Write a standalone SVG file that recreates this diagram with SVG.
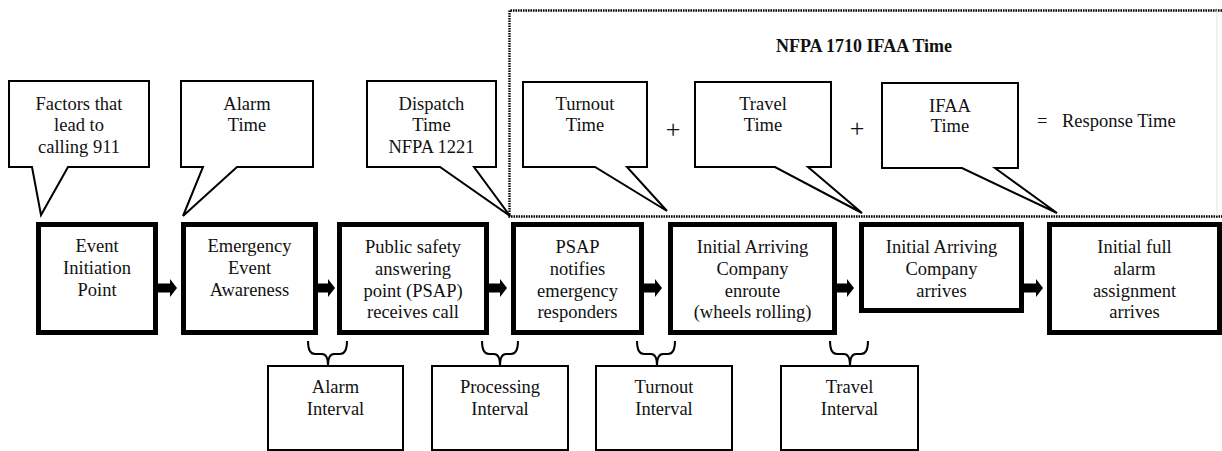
<svg xmlns="http://www.w3.org/2000/svg" width="1222" height="451" viewBox="0 0 1222 451">
<style>
text{font-family:"Liberation Serif","Times New Roman",serif;font-size:18.5px;fill:#111;text-anchor:middle}
.bold{font-weight:bold;font-size:18px}
.step{fill:#fff;stroke:#000;stroke-width:5}
.callout{fill:#fff;stroke:#000;stroke-width:2;stroke-linejoin:miter}
.interval{fill:#fff;stroke:#000;stroke-width:2}
.brace{fill:none;stroke:#000;stroke-width:2}
.arrow{fill:#000}
.dots{fill:none;stroke:#000;stroke-width:2.4;stroke-dasharray:1.6 0.9}
</style>
<rect width="1222" height="451" fill="#fff"/>

<g id="ifaa-frame">
<path class="dots" d="M1222,10.5 H509.5 V216.5 H1222"/>
<line x1="1217" y1="10" x2="1217" y2="216" stroke="#e4e4e4" stroke-width="1"/>
<text class="bold" x="864" y="52">NFPA 1710 IFAA Time</text>
</g>

<g id="callout-factors">
<path class="callout" d="M9,81 H149 V167 H68 L41,215 L32,167 H9 Z"/>
<text x="79" y="110">Factors that</text>
<text x="79" y="131">lead to</text>
<text x="79" y="153">calling 911</text>
</g>
<g id="callout-alarm-time">
<path class="callout" d="M181,81 H313 V167 H237 L183,216 L203,167 H181 Z"/>
<text x="247" y="110">Alarm</text>
<text x="247" y="131">Time</text>
</g>
<g id="callout-dispatch-time">
<path class="callout" d="M367,81 H496 V167 H474 L510,216 L440,167 H367 Z"/>
<text x="431.5" y="110">Dispatch</text>
<text x="431.5" y="131">Time</text>
<text x="431.5" y="153">NFPA 1221</text>
</g>
<g id="callout-turnout-time">
<path class="callout" d="M523,82 H647 V167 H627 L667,211 L595,167 H523 Z"/>
<text x="585" y="110">Turnout</text>
<text x="585" y="131">Time</text>
</g>
<g id="callout-travel-time">
<path class="callout" d="M695,82 H831 V167 H808 L862,213 L775,167 H695 Z"/>
<text x="763" y="110">Travel</text>
<text x="763" y="131">Time</text>
</g>
<g id="callout-ifaa-time">
<path class="callout" d="M882,83 H1018 V168 H995 L1057,213 L962,168 H882 Z"/>
<text x="950" y="112">IFAA</text>
<text x="950" y="132">Time</text>
</g>
<g id="sum-operators">
<text x="673" y="138" style="font-size:26px">+</text>
<text x="857" y="137" style="font-size:26px">+</text>
<text style="text-anchor:start" y="127"><tspan x="1037">=</tspan><tspan x="1062">Response Time</tspan></text>
</g>

<g id="step-event-initiation">
<rect class="step" x="38.5" y="224.5" width="117" height="108"/>
<text x="97" y="252">Event</text>
<text x="97" y="274">Initiation</text>
<text x="97" y="296">Point</text>
</g>
<g id="step-awareness">
<rect class="step" x="183.5" y="224.5" width="132" height="108"/>
<text x="249.5" y="252">Emergency</text>
<text x="249.5" y="274">Event</text>
<text x="249.5" y="296">Awareness</text>
</g>
<g id="step-psap-receives">
<rect class="step" x="339.5" y="224.5" width="147" height="108"/>
<text x="413" y="253">Public safety</text>
<text x="413" y="275">answering</text>
<text x="413" y="297">point (PSAP)</text>
<text x="413" y="318">receives call</text>
</g>
<g id="step-psap-notifies">
<rect class="step" x="513.5" y="224.5" width="128" height="108"/>
<text x="577.5" y="253">PSAP</text>
<text x="577.5" y="275">notifies</text>
<text x="577.5" y="297">emergency</text>
<text x="577.5" y="318">responders</text>
</g>
<g id="step-enroute">
<rect class="step" x="670.5" y="224.5" width="164" height="108"/>
<text x="752.5" y="253">Initial Arriving</text>
<text x="752.5" y="275">Company</text>
<text x="752.5" y="297">enroute</text>
<text x="752.5" y="318">(wheels rolling)</text>
</g>
<g id="step-arrives">
<rect class="step" x="861.5" y="224.5" width="160" height="86"/>
<text x="941.5" y="253">Initial Arriving</text>
<text x="941.5" y="275">Company</text>
<text x="941.5" y="297">arrives</text>
</g>
<g id="step-full-alarm">
<rect class="step" x="1049.5" y="224.5" width="170" height="108"/>
<text x="1134.5" y="253">Initial full</text>
<text x="1134.5" y="275">alarm</text>
<text x="1134.5" y="297">assignment</text>
<text x="1134.5" y="318">arrives</text>
</g>

<g id="interval-alarm">
<rect class="interval" x="268" y="366" width="135" height="84"/>
<text x="335.5" y="393">Alarm</text>
<text x="335.5" y="415">Interval</text>
</g>
<g id="interval-processing">
<rect class="interval" x="432" y="366" width="136" height="84"/>
<text x="500" y="393">Processing</text>
<text x="500" y="415">Interval</text>
</g>
<g id="interval-turnout">
<rect class="interval" x="596" y="366" width="136" height="84"/>
<text x="664" y="393">Turnout</text>
<text x="664" y="415">Interval</text>
</g>
<g id="interval-travel">
<rect class="interval" x="781" y="366" width="137" height="84"/>
<text x="849.5" y="393">Travel</text>
<text x="849.5" y="415">Interval</text>
</g>

<g id="connectors">
<path class="arrow" d="M156,283.5 H170 V279 L177,288 L170,297 V292.5 H156 Z"/>
<path class="arrow" d="M316,283.5 H328 V279 L335,288 L328,297 V292.5 H316 Z"/>
<path class="arrow" d="M487,283.5 H500 V279 L507,288 L500,297 V292.5 H487 Z"/>
<path class="arrow" d="M642,283.5 H655 V279 L662,288 L655,297 V292.5 H642 Z"/>
<path class="arrow" d="M835,283.5 H847 V279 L854,288 L847,297 V292.5 H835 Z"/>
<path class="arrow" d="M1022,283.5 H1036 V279 L1043,288 L1036,297 V292.5 H1022 Z"/>
<path class="brace" d="M308,341 Q308,354 315,354 H322 Q328,354 328,366 Q328,354 334,354 H340 Q347,354 347,341"/>
<path class="brace" d="M482,341 Q482,354 489,354 H494 Q500,354 500,366 Q500,354 506,354 H511 Q518,354 518,341"/>
<path class="brace" d="M637,341 Q637,354 644,354 H651 Q657,354 657,366 Q657,354 663,354 H668 Q675,354 675,341"/>
<path class="brace" d="M830,341 Q830,354 837,354 H844 Q850,354 850,366 Q850,354 856,354 H861 Q868,354 868,341"/>
</g>
</svg>
